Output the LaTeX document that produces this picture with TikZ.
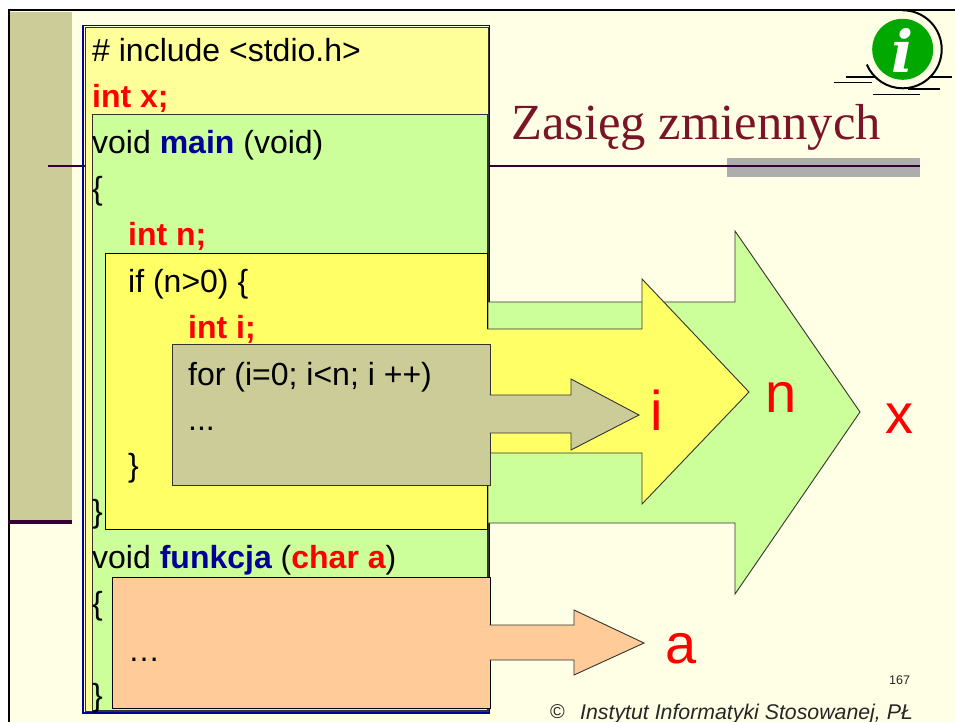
\documentclass[tikz,border=0pt]{standalone}
\usepackage{fontspec}
\setmainfont{Liberation Sans}
\newfontfamily\titlefont{Liberation Serif}
\newfontfamily\iconfont{DejaVu Serif}
\usetikzlibrary{calc,positioning}
\definecolor{tPage}{RGB}{255,255,229}
\definecolor{tStrip}{RGB}{204,204,153}
\definecolor{tLine}{RGB}{51,0,51}
\definecolor{tBand}{RGB}{173,173,173}
\definecolor{tTitle}{RGB}{122,20,38}
\definecolor{tBlue}{RGB}{0,0,153}
\definecolor{tPale}{RGB}{255,255,153}
\definecolor{tGreen}{RGB}{204,255,153}
\definecolor{tYellow}{RGB}{255,255,102}
\definecolor{tPeach}{RGB}{255,204,153}
\definecolor{tIcon}{RGB}{0,168,0}
\tikzset{
    scopebox/.style={draw=black!80, line width=0.9pt},
    scopearrow/.style={draw=black!80, line width=0.9pt, line join=miter},
    codeline/.style={anchor=base west, inner sep=0pt, font=\fontsize{32}{38}\selectfont},
    varname/.style={anchor=base west, inner sep=0pt, text=red, font=\fontsize{56}{64}\selectfont},
    iconline/.style={line width=1.5pt},
}
\newcommand{\kw}[1]{\textbf{\textcolor{red}{#1}}}
\newcommand{\fn}[1]{\textbf{\textcolor{tBlue}{#1}}}

\begin{document}
\begin{tikzpicture}[x=1pt, y=-1pt]
    \useasboundingbox (0,0) rectangle (955,722);

    % page
    \fill[tPage] (9,11) rectangle (955,722);
    \draw[line width=2pt] (9,722) -- (9,10.5) -- (955,10.5);
    \fill[tStrip] (10,12) rectangle (72,522);
    \fill[tLine] (8,520) rectangle (72,524);
    \fill[tBand] (727,158) rectangle (920,177);
    \draw[tLine, line width=1.2pt] (48,166) -- (920,166);

    % icon
    \draw[iconline] (846,77) -- (952,77);
    \draw[iconline] (834,82.5) -- (872,82.5);
    \draw[iconline] (908,89) -- (940,89);
    \draw[iconline] (873,94.7) -- (920,94.7);
    \fill[tPage] (902.7,49.3) circle (38);
    \draw[line width=2pt] (902.7,10.3) arc[start angle=-90, end angle=157, radius=39];
    \fill[tIcon] (902.7,49.3) circle (30.5);
    \node[inner sep=0pt, text=white] (infoI) at (902.5,50) {\iconfont\fontsize{58}{58}\selectfont\bfseries\itshape i};

    \node[anchor=base west, inner sep=0pt, text=tTitle] (title) at (511,140) {\titlefont\fontsize{50.6}{54}\selectfont Zasięg zmiennych};

    % nested scopes
    \draw[scopebox, line width=0.6pt, fill=tPale] (84.8,27.2) rectangle (488.4,711.5);
    \draw[scopebox, fill=tGreen] (92,114.5) rectangle (487.8,710);
    \draw[scopebox, draw=black, fill=tYellow] (105,253) rectangle (487.8,529.5);
    \draw[tBlue, line width=1.4pt] (83,25.5) rectangle (489.6,713);

    % arrows of x and n
    \draw[scopearrow, fill=tGreen] (488.4,302) -- (735,302) -- (735,231) -- (860,412) -- (735,594) -- (735,523) -- (488.4,523);
    \draw[scopearrow, fill=tYellow] (487,329) -- (642,329) -- (642,279) -- (749,392) -- (642,504) -- (642,453) -- (487,453);

    \draw[scopebox, fill=tStrip] (172,344) rectangle (490,485.5);
    \draw[scopearrow, fill=tStrip] (489.5,395) -- (571,395) -- (571,379) -- (639,415) -- (571,450) -- (571,433) -- (489.5,433);

    \draw[scopebox, draw=black, fill=tPeach] (112,577) rectangle (490,708);
    \draw[scopearrow, fill=tPeach] (489.5,625) -- (574,625) -- (574,610) -- (644,643) -- (574,675) -- (574,660) -- (489.5,660);

    % code
    \node[codeline] (include) at (92,61.5) {\# include <stdio.h>};
    \node[codeline] (intx) at (92,107.5) {\kw{int x;}};
    \node[codeline] (mainhead) at (92,153.5) {void \fn{main} (void)};
    \node[codeline] (mainopen) at (92,199.5) {\{};
    \node[codeline] (intn) at (128,245) {\kw{int n;}};
    \node[codeline] (ifhead) at (128,292) {if (n>0) \{};
    \node[codeline] (inti) at (188,338) {\kw{int i;}};
    \node[codeline] (forhead) at (188,385) {for (i=0; i<n; i ++)};
    \node[codeline] (fordots) at (188,430.5) {...};
    \node[codeline] (ifclose) at (128,476) {\}};
    \node[codeline] (mainclose) at (92,522) {\}};
    \node[codeline] (funchead) at (92,568) {void \fn{funkcja} (\kw{char a})};
    \node[codeline] (funcopen) at (92,614) {\{};
    \node[codeline] (funcdots) at (128,661) {…};
    \node[codeline] (funcclose) at (92,706) {\}};

    % names at the tips
    \node[varname] (nameI) at (650,430) {i};
    \node[varname] (nameN) at (765,412) {n};
    \node[varname] (nameX) at (885,433) {x};
    \node[varname] (nameA) at (665,663) {a};

    \node[anchor=base west, inner sep=0pt, font=\fontsize{12.5}{14}\selectfont, text=black!85] (pagenum) at (889,684) {167};
    \node[anchor=base west, inner sep=0pt, font=\fontsize{21.3}{24}\selectfont\itshape, text=black!85] (footer) at (580,719) {Instytut Informatyki Stosowanej, PŁ};
    \node[anchor=base west, inner sep=0pt, font=\fontsize{20}{24}\selectfont, text=black!85] (copyr) at (550,718) {©};
\end{tikzpicture}
\end{document}
